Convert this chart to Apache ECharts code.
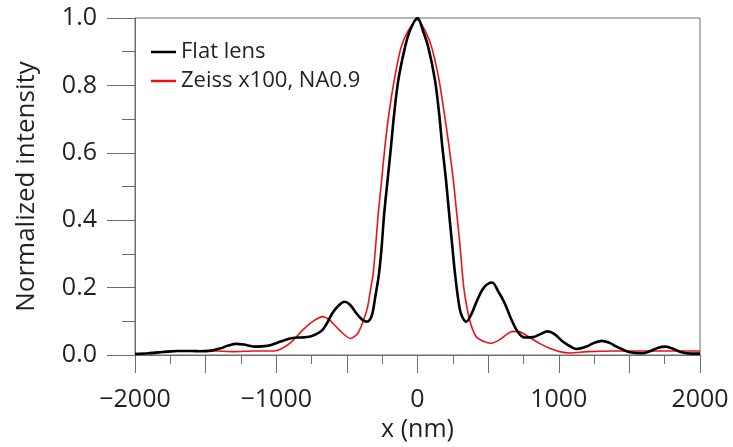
<!DOCTYPE html>
<html>
<head>
<meta charset="utf-8">
<script src="https://cdn.jsdelivr.net/npm/echarts@6/dist/echarts.min.js"></script>
<style>html,body{margin:0;padding:0;background:#fff}#c{width:733px;height:447px}</style>
</head>
<body>
<div id="c"></div>
<script>
var flatX = [-2000,-1900,-1800,-1700,-1600,-1532,-1461,-1400,-1340,-1284,-1230,-1156,-1064,-1000,-943,-872,-820,-766,-720,-674,-640,-603,-560,-518,-480,-433,-400,-362,-340,-320,-300,-273,-254,-236,-212,-188,-165,-136,-89,-53,0,38,77,124,153,176,202,224,247,266,290,310,345,380,420,470,528,570,617,660,709,759,816,870,920,970,1028,1080,1125,1196,1250,1303,1360,1409,1460,1504,1587,1650,1700,1752,1800,1870,1940,2000];
var flatY = [0.003,0.005,0.009,0.012,0.012,0.011,0.013,0.019,0.028,0.033,0.031,0.025,0.027,0.035,0.044,0.051,0.052,0.054,0.061,0.074,0.095,0.124,0.146,0.158,0.15,0.124,0.108,0.099,0.103,0.122,0.17,0.24,0.32,0.419,0.518,0.617,0.716,0.815,0.912,0.963,1.0,0.963,0.912,0.815,0.716,0.617,0.518,0.419,0.32,0.24,0.16,0.12,0.099,0.12,0.16,0.2,0.215,0.19,0.154,0.11,0.069,0.052,0.053,0.062,0.07,0.062,0.04,0.026,0.018,0.025,0.036,0.042,0.036,0.025,0.015,0.008,0.005,0.012,0.021,0.025,0.02,0.008,0.004,0.004];
var zeissX = [-1900,-1800,-1700,-1600,-1500,-1418,-1298,-1156,-1014,-957,-894,-813,-740,-672,-624,-553,-475,-423,-385,-353,-330,-314,-297,-278,-254,-231,-202,-165,-117,-65,0,53,101,153,190,224,254,278,302,318,333,369,416,470,522,580,664,710,794,870,936,1007,1078,1200,1400,1600,1800,2000];
var zeissY = [0.007,0.01,0.011,0.012,0.013,0.012,0.01,0.012,0.012,0.02,0.038,0.074,0.1,0.114,0.104,0.074,0.049,0.064,0.1,0.143,0.2,0.24,0.32,0.419,0.518,0.617,0.716,0.815,0.912,0.963,0.995,0.963,0.912,0.815,0.716,0.617,0.518,0.419,0.32,0.24,0.183,0.104,0.054,0.04,0.035,0.045,0.069,0.07,0.052,0.033,0.02,0.01,0.006,0.01,0.012,0.012,0.012,0.012];
var seriesNames = ['Flat lens', 'Zeiss x100, NA0.9'];
var xTicks = {min: -2000, max: 2000, step: 500};
var yTicks = {min: 0, max: 1, step: 0.2};

function pairs(xs, ys){ return xs.map(function(x,i){ return [x, ys[i]]; }); }

var txt = '#231f20';
var axisCol = '#6d6d6d';
var font = 'Open Sans';
var chart = echarts.init(document.getElementById('c'));
chart.setOption({
  animation: false,
  backgroundColor: '#fff',
  grid: {left: 135, right: 33, top: 18, bottom: 92, show: true, borderColor: axisCol, borderWidth: 1},
  legend: {
    data: seriesNames,
    orient: 'vertical',
    left: 146, top: 36,
    icon: 'rect', itemWidth: 25, itemHeight: 2.5, itemGap: 7,
    textStyle: {fontFamily: font, fontSize: 22, color: txt, padding: [0,0,0,0]}
  },
  xAxis: {
    type: 'value', min: xTicks.min, max: xTicks.max, interval: xTicks.step,
    name: 'x (nm)', nameLocation: 'middle', nameGap: 57,
    nameTextStyle: {fontFamily: font, fontSize: 25, color: txt},
    axisLine: {onZero: false, lineStyle: {color: axisCol, width: 1}},
    axisTick: {inside: false, length: 18, lineStyle: {color: axisCol}},
    minorTick: {show: true, splitNumber: 2, length: 9, lineStyle: {color: axisCol}},
    splitLine: {show: false},
    axisLabel: {fontFamily: font, fontSize: 25, color: txt, margin: 32,
      formatter: function(v){ if (v % 1000 !== 0) return ''; return v < 0 ? '\u2212' + (-v) : String(v); }}
  },
  yAxis: {
    type: 'value', min: yTicks.min, max: yTicks.max, interval: yTicks.step,
    name: 'Normalized intensity', nameLocation: 'middle', nameGap: 95,
    nameTextStyle: {fontFamily: font, fontSize: 26, color: txt},
    axisLine: {show: true, onZero: false, lineStyle: {color: axisCol, width: 1}},
    axisTick: {show: true, inside: false, length: 28, lineStyle: {color: axisCol}},
    minorTick: {show: true, splitNumber: 2, length: 13, lineStyle: {color: axisCol}},
    splitLine: {show: false},
    axisLabel: {fontFamily: font, fontSize: 25, color: txt, margin: 38,
      formatter: function(v){ return v.toFixed(1); }}
  },
  series: [
    {name: seriesNames[1], type: 'line', data: pairs(zeissX, zeissY), showSymbol: false, smooth: 0.25,
     color: '#ee1111', lineStyle: {color: '#ee1111', width: 1.6}},
    {name: seriesNames[0], type: 'line', data: pairs(flatX, flatY), showSymbol: false, smooth: 0.35,
     color: '#000', lineStyle: {color: '#000', width: 2.6}}
  ]
});
</script>
</body>
</html>
